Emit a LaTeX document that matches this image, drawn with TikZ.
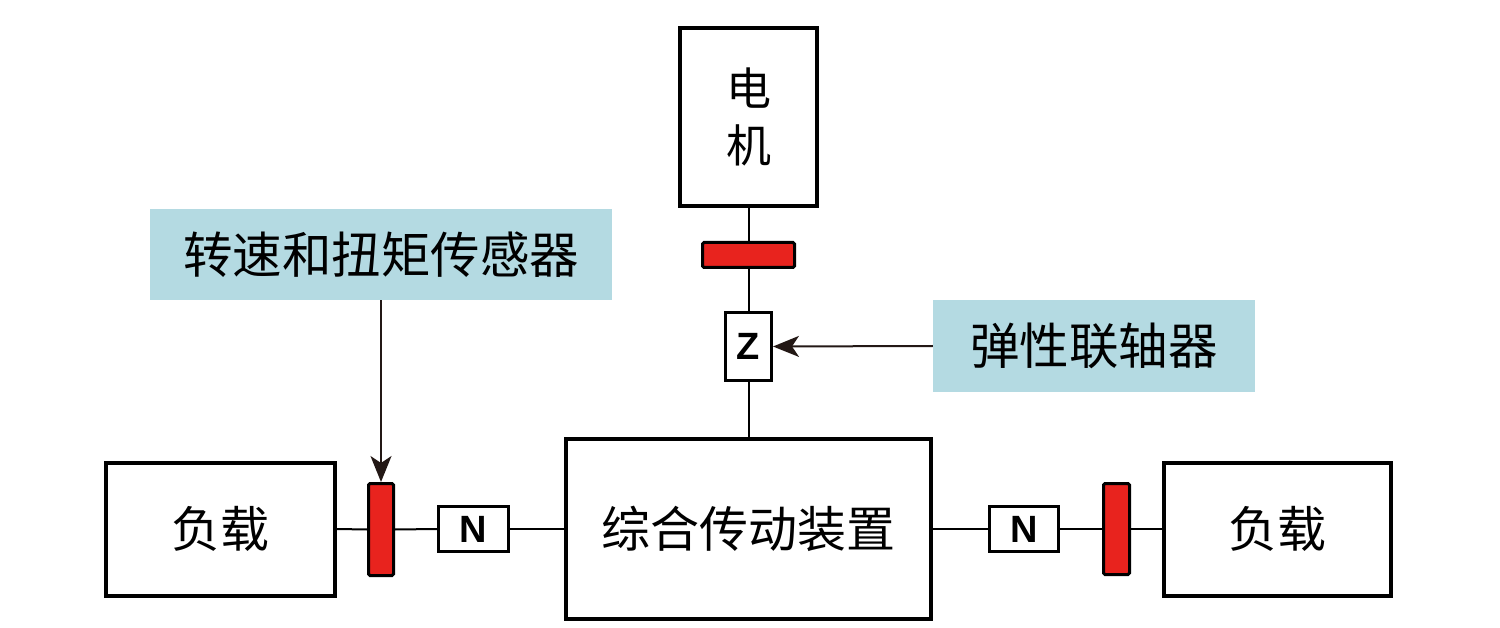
\documentclass[tikz,border=0pt]{standalone}
\usepackage{fontspec}
\setmainfont{Liberation Sans}
\newfontfamily\cjk{Noto Sans CJK SC}
\usetikzlibrary{arrows.meta}
\definecolor{lblue}{HTML}{B4DAE2}
\definecolor{cred}{HTML}{E8231E}
\definecolor{arr}{HTML}{231815}
\begin{document}
\begin{tikzpicture}[x=1pt,y=-1pt,
 box/.style={draw, line width=4pt, inner sep=0pt, font=\cjk\fontsize{49}{58}\selectfont, align=center},
 redbar/.style={draw, fill=cred, line width=3pt, rounded corners=1.5pt, inner sep=0pt},
 coup/.style={draw, fill=white, line width=3pt, inner sep=0pt, font=\bfseries\fontsize{38}{38}\selectfont},
 lbl/.style={fill=lblue, inner sep=0pt, font=\cjk\fontsize{49.5}{49.5}\selectfont},
 link/.style={line width=2pt},
 pointer/.style={line width=2pt, draw=arr, -{Stealth[length=26pt,width=21pt,inset=7pt]}}
]
\useasboundingbox (0,0) rectangle (1500,628);

% main boxes
\node[box, minimum width=137pt, minimum height=178pt, font=\cjk\fontsize{45}{57}\selectfont] (motor) at (748.5,117) {电\\机};
\node[box, minimum width=365pt, minimum height=180pt] (gear) at (748.5,529) {综合传动装置};
\node[box, minimum width=229pt, minimum height=133pt] (loadL) at (220.5,529) {负载};
\node[box, minimum width=227pt, minimum height=133pt] (loadR) at (1277.5,529) {负载};

% sensors (red bars)
\node[redbar, minimum width=92pt, minimum height=25pt] (redT) at (748.5,255) {};
\node[redbar, minimum width=25pt, minimum height=92pt] (redL) at (381,529.5) {};
\node[redbar, minimum width=26pt, minimum height=91pt] (redR) at (1116.5,529) {};

% couplings
\node[coup, minimum width=46pt, minimum height=68pt] (cZ) at (748.5,346.5) {Z};
\node[coup, minimum width=70pt, minimum height=45pt] (cNL) at (473.5,529) {N};
\node[coup, minimum width=69pt, minimum height=45pt] (cNR) at (1024,529) {N};

% labels
\node[lbl, minimum width=462pt, minimum height=91pt] (lab1) at (381,254.5) {转速和扭矩传感器};
\node[lbl, minimum width=322pt, minimum height=92pt] (lab2) at (1094,346) {弹性联轴器};

% shafts
\draw[link] (motor.south) -- (redT.north);
\draw[link] (redT.south) -- (cZ.north);
\draw[link] (cZ.south) -- (gear.north);
\draw[link] (loadL.east) -- (redL.west);
\draw[link] (redL.east) -- (cNL.west);
\draw[link] (cNL.east) -- (gear.west);
\draw[link] (gear.east) -- (cNR.west);
\draw[link] (cNR.east) -- (redR.west);
\draw[link] (redR.east) -- (loadR.west);

% pointers
\draw[pointer] (lab1.south) -- (redL.north);
\draw[pointer] (lab2.west) -- (cZ.east);
\end{tikzpicture}
\end{document}
